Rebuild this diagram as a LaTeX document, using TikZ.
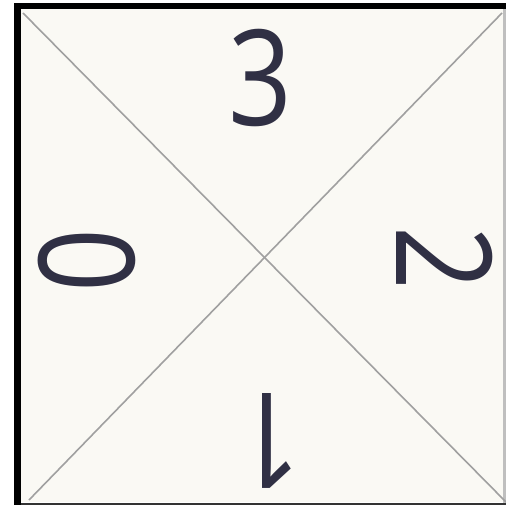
\documentclass[tikz,border=0pt]{standalone}
\usepackage{fontspec}
\setmainfont{Open Sans}
\definecolor{tile}{RGB}{250,249,244}
\definecolor{ink}{RGB}{48,48,68}
\definecolor{diag}{RGB}{160,160,160}
\tikzset{
  digit/.style={inner sep=0pt, text=ink, font=\fontsize{133}{133}\selectfont},
  diagline/.style={draw=diag, line width=1.6pt}
}
\begin{document}
\begin{tikzpicture}[x=1pt,y=-1pt]
\useasboundingbox (0,0) rectangle (506,505);
\fill[white] (0,0) rectangle (506,505);
\fill[black] (14,3) rectangle (506,9);
\fill[black] (14,3) rectangle (21,505);
\fill[tile] (21,9) rectangle (503,502);
\fill[black!80] (21,502.5) rectangle (506,505);
\fill[black!25] (503,9) rectangle (506,502.5);
\coordinate (tl) at (23,13);
\coordinate (br) at (506,502);
\coordinate (tr) at (502,13);
\coordinate (bl) at (29,500);
\draw[diagline] (tl) -- (br);
\draw[diagline] (tr) -- (bl);
\node[digit, xscale=0.84] (three) at (260,78) {3};
\node[digit, rotate=-90, xscale=0.84] (two) at (445,258) {2};
\node[digit, rotate=180, xscale=0.84] (one) at (270,441) {1};
\node[digit, rotate=90, xscale=0.84] (zero) at (87,261) {0};
\end{tikzpicture}
\end{document}
